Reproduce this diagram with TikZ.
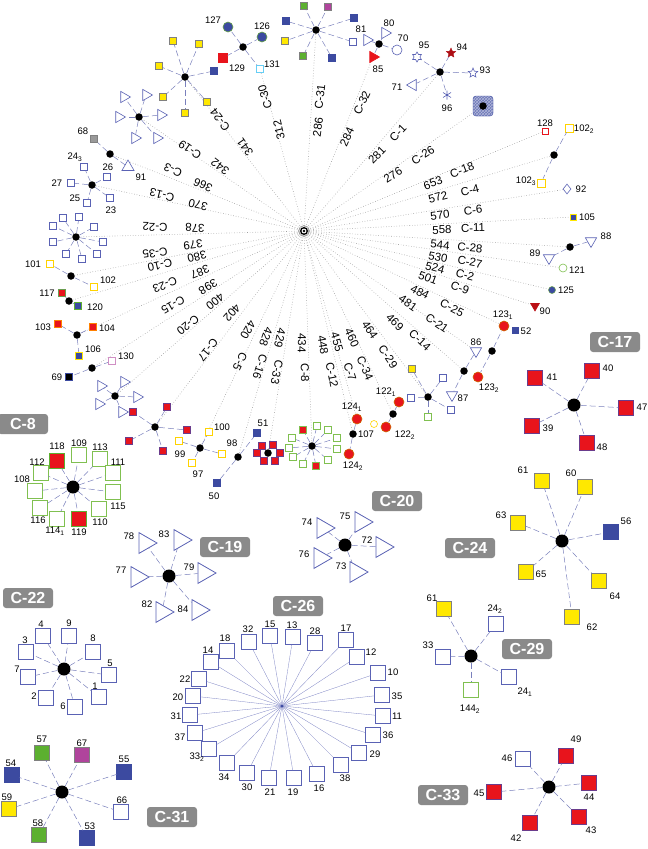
\documentclass[tikz,border=0pt]{standalone}
\usepackage{fontspec}
\setmainfont{Liberation Sans}
\usetikzlibrary{shapes.geometric,patterns,backgrounds}
\definecolor{nblue}{HTML}{3C4AA0}
\definecolor{oblue}{HTML}{5A62B4}
\definecolor{nyel}{HTML}{FFE800}
\definecolor{nred}{HTML}{E8141C}
\definecolor{ngreen}{HTML}{5CB030}
\definecolor{ogreen}{HTML}{80C050}
\definecolor{nmag}{HTML}{B0449C}
\definecolor{edgec}{HTML}{7A80BC}
\definecolor{rayc}{HTML}{A0A0A0}
\definecolor{boxc}{HTML}{8A8A8A}
\definecolor{rborder}{HTML}{6A3C8C}
\newcommand\lf[7]{\node[#2] (#1) at (#3,#4) {}; \node[lab] (#1l) at (#5,#6) {#7};}
\newcommand\rl[4]{\pgfmathsetmacro\rang{atan2(231-(#3),(#2)-304)}\node[rlab,rotate=\rang] (#1) at (#2,#3) {#4};}
\newcommand\sub[2]{#1\textsubscript{#2}}
\begin{document}
\begin{tikzpicture}[x=1pt,y=-1pt,
  hub/.style={circle,fill=black,inner sep=0pt,minimum size=7.5pt},
  bighub/.style={circle,fill=black,inner sep=0pt,minimum size=13pt},
  sq/.style={rectangle,inner sep=0pt,minimum size=7.5pt,line width=0.6pt},
  ysq/.style={sq,fill=nyel,draw=gray},
  bsq/.style={sq,fill=nblue,draw=nblue},
  osq/.style={sq,draw=oblue,fill=white},
  oysq/.style={sq,draw=nyel!80!orange,fill=white},
  ogsq/.style={sq,draw=ogreen,fill=white},
  rsq/.style={sq,fill=nred,draw=rborder},
  gsq/.style={sq,fill=ngreen,draw=gray},
  msq/.style={sq,fill=nmag,draw=gray},
  L/.style={minimum size=14.5pt},
  tri/.style={regular polygon,regular polygon sides=3,draw=oblue,fill=white,inner sep=0pt,minimum size=13pt,shape border rotate=-90,line width=0.6pt},
  btri/.style={tri,minimum size=24pt,line width=0.8pt},
  tridown/.style={tri,shape border rotate=180},
  cedge/.style={draw=edgec,dash pattern=on 6pt off 3pt,line width=0.5pt},
  ray/.style={draw=rayc,dotted,line width=0.6pt},
  lab/.style={font=\fontsize{9.5}{10}\selectfont,inner sep=0pt},
  rlab/.style={font=\fontsize{11.5}{12}\selectfont,inner sep=0pt},
  cbox/.style={fill=boxc,text=white,font=\bfseries\fontsize{16}{16}\selectfont,rounded corners=3pt,minimum width=50pt,minimum height=20pt,inner sep=1pt}]
\useasboundingbox (0,0) rectangle (648,849);

% ---------- centre ----------
\node[circle,fill=black,inner sep=0pt,minimum size=8pt] (ctr) at (304,231) {};
\fill[white] (ctr) circle (2.4pt);
\fill[black] (ctr) circle (1.3pt);
\draw[gray,line width=0.5pt] (ctr) circle (5.5pt);

% ---------- radial clusters ----------
% C-24
\node[hub] (r24) at (185,77) {};
\foreach \i/\x/\y in {a/173/41,b/199/44,c/159/66,d/163/97,e/185/113,f/207/102}{\node[ysq] (r24\i) at (\x,\y) {}; \draw[cedge] (r24) -- (r24\i);}
\node[bsq] (r24g) at (214,71) {}; \draw[cedge] (r24) -- (r24g);
% C-30
\node[hub] (r30) at (243,47) {};
\lf{r30-127}{circle,fill=nblue,draw=ngreen!70!gray,minimum size=10pt,inner sep=0pt,line width=0.6pt}{228}{27}{213}{20}{127}
\lf{r30-126}{circle,fill=nblue,draw=ngreen!70!gray,minimum size=10pt,inner sep=0pt,line width=0.6pt}{262}{37}{262}{26}{126}
\lf{r30-129}{rsq,draw=nred,minimum size=8.5pt}{223}{58}{237}{68}{129}
\lf{r30-131}{sq,draw=cyan!60,fill=white}{260}{69}{272}{64}{131}
\foreach \n in {r30-127,r30-126,r30-129,r30-131}{\draw[cedge] (r30) -- (\n);}
% C-31
\node[hub] (r31) at (316,30) {};
\node[gsq] (r31a) at (304,6) {}; \node[msq] (r31b) at (328,7) {}; \node[bsq] (r31c) at (354,18) {};
\node[bsq] (r31d) at (286,21) {}; \node[ysq] (r31e) at (285,41) {}; \node[gsq] (r31f) at (303,56) {};
\node[bsq] (r31g) at (332,58) {}; \node[osq] (r31h) at (353,42) {};
\foreach \n in {a,b,c,d,e,f,g,h}{\draw[cedge] (r31) -- (r31\n);}
% C-32
\node[hub] (r32) at (379,44) {};
\lf{r32-81}{tri}{367}{40}{361}{29}{81}
\lf{r32-80}{tri}{385}{33}{389}{23}{80}
\lf{r32-70}{circle,draw=oblue,fill=white,minimum size=10pt,inner sep=0pt,line width=0.6pt}{397}{50}{403}{38}{70}
\lf{r32-85}{tri,fill=nred,draw=nred}{373}{57}{378}{69}{85}
\foreach \n in {r32-81,r32-80,r32-70,r32-85}{\draw[cedge] (r32) -- (\n);}
% C-1
\node[hub] (r1) at (440,72) {};
\lf{r1-95}{star,star points=6,star point ratio=1.7,draw=oblue,fill=white,minimum size=10pt,inner sep=0pt,line width=0.6pt}{417}{57}{424}{45}{95}
\lf{r1-94}{star,star points=5,star point ratio=2.2,fill=nred!75!black,draw=nred!75!black,minimum size=10pt,inner sep=0pt}{451}{53}{462}{47}{94}
\lf{r1-93}{star,star points=5,star point ratio=2.2,draw=oblue,fill=white,minimum size=10pt,inner sep=0pt,line width=0.6pt}{473}{73}{485}{70}{93}
\lf{r1-96}{circle,minimum size=9pt,inner sep=0pt}{447}{95}{447}{108}{96}
\draw[oblue,line width=0.6pt] (447,90.5) -- (447,99.5) (443,92.5) -- (451,97.5) (443,97.5) -- (451,92.5);
\lf{r1-71}{tri,shape border rotate=90}{413}{85}{397}{87}{71}
\foreach \n in {r1-95,r1-94,r1-93,r1-96,r1-71}{\draw[cedge] (r1) -- (\n);}
% C-26 (collapsed)
\node[rectangle,rounded corners=3pt,minimum size=20pt,inner sep=0pt,draw=nblue,preaction={fill=nblue!75},pattern=crosshatch,pattern color=nblue!40] (r26) at (483,106) {};
\node[hub] (r26h) at (483,106) {};
% right side
\lf{r18}{sq,draw=nred,fill=white,minimum size=6pt}{545}{131}{545}{123}{128}
\node[hub] (r4) at (554,155) {};
\lf{r4-a}{oysq,minimum size=8pt}{569}{128}{584}{129}{\sub{102}{2}}
\lf{r4-b}{oysq,minimum size=8pt}{541}{183}{526}{181}{\sub{102}{3}}
\draw[cedge] (r4) -- (r4-a); \draw[cedge] (r4) -- (r4-b);
\lf{r6}{diamond,draw=oblue,fill=white,minimum width=8pt,minimum height=10pt,inner sep=0pt,line width=0.6pt}{567}{189}{581}{189}{92}
\lf{r11}{sq,fill=nblue,draw=nyel,minimum size=6pt}{573}{217}{587}{217}{105}
\node[hub] (r28) at (570,247) {};
\lf{r28-88}{tridown}{591}{241}{606}{236}{88}
\lf{r28-89}{tridown}{549}{258}{535}{253}{89}
\draw[cedge] (r28) -- (r28-88); \draw[cedge] (r28) -- (r28-89);
\lf{r27}{circle,draw=ogreen,fill=white,minimum size=8pt,inner sep=0pt,line width=0.6pt}{563}{268}{577}{270}{121}
\lf{r2}{circle,fill=nblue,draw=ngreen!70!gray,minimum size=7pt,inner sep=0pt,line width=0.5pt}{552}{290}{566}{290}{125}
\lf{r9}{tridown,fill=nred!80!black,draw=nred!80!black,minimum size=10pt}{535}{306}{545}{311}{90}
% cluster A (123)
\node[hub] (rA) at (492,351) {};
\lf{rA-1231}{circle,fill=nred,draw=orange!80!black,minimum size=10pt,inner sep=0pt,line width=0.6pt}{504}{326}{503}{315}{\sub{123}{1}}
\lf{rA-52}{bsq,minimum size=6pt}{515}{330}{526}{331}{52}
\lf{rA-1232}{circle,fill=nred,draw=orange!80!black,minimum size=10pt,inner sep=0pt,line width=0.6pt}{478}{377}{489}{388}{\sub{123}{2}}
\draw[cedge] (rA) -- (rA-1231); \draw[cedge] (rA) -- (rA-1232);
% cluster B (86,87)
\node[hub] (rB) at (464,371) {};
\lf{rB-86}{tridown}{476}{351}{476}{342}{86}
\lf{rB-87}{tridown}{452}{395}{463}{398}{87}
\draw[cedge] (rB) -- (rB-86); \draw[cedge] (rB) -- (rB-87);
% cluster C-29 (collapsed)
\node[hub] (r29) at (428,397) {};
\node[ysq] (r29a) at (412,369) {}; \node[osq] (r29b) at (443,378) {}; \node[osq] (r29c) at (411,398) {};
\node[osq] (r29d) at (451,410) {}; \node[ogsq] (r29e) at (428,417) {};
\foreach \n in {a,b,c,d,e}{\draw[cedge] (r29) -- (r29\n);}
% 122
\node[hub] (r34) at (393,414) {};
\lf{r34-1}{circle,fill=nred,draw=orange!80!black,minimum size=10pt,inner sep=0pt,line width=0.6pt}{399}{402}{386}{392}{\sub{122}{1}}
\lf{r34-2}{circle,fill=nred,draw=orange!80!black,minimum size=10pt,inner sep=0pt,line width=0.6pt}{386}{427}{405}{435}{\sub{122}{2}}
\draw[cedge] (r34) -- (r34-1); \draw[cedge] (r34) -- (r34-2);
% 124 / 107
\node[hub] (r12) at (353,434) {};
\lf{r7-1241}{circle,fill=nred,draw=orange!80!black,minimum size=10pt,inner sep=0pt,line width=0.6pt}{357}{419}{352}{407}{\sub{124}{1}}
\lf{r12-107}{circle,draw=nyel!80!orange,fill=white,minimum size=7pt,inner sep=0pt,line width=0.6pt}{374}{424}{366}{434}{107}
\lf{r12-1242}{circle,fill=nred,draw=orange!80!black,minimum size=10pt,inner sep=0pt,line width=0.6pt}{349}{454}{353}{466}{\sub{124}{2}}
\draw[cedge] (r12) -- (r7-1241); \draw[cedge] (r12) -- (r12-1242);
% C-8 collapsed (green)
\node[hub] (r8) at (312,446) {};
\foreach \i/\x/\y in {a/292/438,b/289/448,c/293/457,d/303/464,f/328/460,g/337/449,h/337/438,i/328/430,j/317/426}{\node[ogsq] (r8\i) at (\x,\y) {}; \draw[cedge] (r8) -- (r8\i);}
\foreach \i/\x/\y in {e/316/466,k/303/430}{\node[rsq,draw=ogreen] (r8\i) at (\x,\y) {}; \draw[cedge] (r8) -- (r8\i);}
% C-33 collapsed (red cross)
\foreach \i/\x/\y in {a/262/446,b/273/445,c/280/453,d/275/461,e/264/461,f/257/453}{\node[rsq] (r33\i) at (\x,\y) {};}
\node[hub] (r33) at (268,453) {};
% C-16 (98)
\node[hub] (r16) at (238,457) {};
\node[lab] (r16l) at (232,443) {98};
\lf{r16-50}{bsq}{217}{483}{214}{496}{50}
\lf{r16-51}{bsq}{257}{433}{263}{423}{51}
\draw[cedge] (r16) -- (r16-50); \draw[cedge] (r16) -- (r16-51);
% C-5
\node[hub] (r5) at (200,448) {};
\lf{r5-100}{oysq}{209}{432}{222}{427}{100}
\lf{r5-99}{oysq}{179}{441}{180}{454}{99}
\lf{r5-97}{oysq}{192}{463}{198}{474}{97}
\node[oysq] (r5-x) at (222,454) {};
\foreach \n in {r5-100,r5-99,r5-97,r5-x}{\draw[cedge] (r5) -- (\n);}
% C-17 collapsed
\node[hub] (r17) at (155,427) {};
\foreach \i/\x/\y in {a/133/412,b/167/407,c/187/430,d/129/441,e/163/451}{\node[rsq] (r17\i) at (\x,\y) {}; \draw[cedge] (r17) -- (r17\i);}
% C-20 collapsed
\node[hub] (r20) at (115,396) {};
\foreach \i/\x/\y in {a/101/386,b/124/382,c/137/397,d/99/404,e/122/412}{\node[tri] (r20\i) at (\x,\y) {}; \draw[cedge] (r20) -- (r20\i);}
% C-15
\node[hub] (r15) at (92,368) {};
\lf{r15-130}{sq,draw=nmag!60,fill=white}{112}{361}{126}{356}{130}
\lf{r15-69}{sq,fill=black,draw=nblue}{69}{377}{57}{377}{69}
\draw[cedge] (r15) -- (r15-130); \draw[cedge] (r15) -- (r15-69);
% C-23
\node[hub] (r23) at (77,335) {};
\lf{r23-103}{sq,fill=nred,draw=orange}{58}{324}{43}{327}{103}
\lf{r23-104}{sq,fill=nred,draw=orange}{93}{327}{107}{328}{104}
\lf{r23-106}{sq,fill=nblue,draw=nyel}{79}{356}{93}{349}{106}
\foreach \n in {r23-103,r23-104,r23-106}{\draw[cedge] (r23) -- (\n);}
% C-10
\node[hub] (r10) at (69,301) {};
\lf{r10-117}{sq,fill=nred,draw=ngreen!60!gray}{62}{293}{47}{293}{117}
\lf{r10-120}{sq,fill=nblue,draw=ngreen}{78}{306}{95}{307}{120}
\draw[cedge] (r10) -- (r10-117); \draw[cedge] (r10) -- (r10-120);
% C-35
\node[hub] (r35) at (71,276) {};
\lf{r35-101}{oysq}{50}{264}{33}{264}{101}
\lf{r35-102}{oysq}{94}{287}{108}{280}{102}
\draw[cedge] (r35) -- (r35-101); \draw[cedge] (r35) -- (r35-102);
% C-22 collapsed
\node[hub] (r22) at (76,237) {};
\foreach \i/\x/\y in {a/53/226,b/63/218,c/79/217,d/94/227,e/103/242,f/97/254,g/82/259,h/66/254,i/53/242}{\node[osq] (r22\i) at (\x,\y) {}; \draw[cedge] (r22) -- (r22\i);}
% C-13
\node[hub] (r13) at (92,185) {};
\lf{r13-243}{osq}{84}{167}{75}{157}{\sub{24}{3}}
\lf{r13-26}{osq}{107}{177}{108}{167}{26}
\lf{r13-27}{osq}{71}{183}{57}{183}{27}
\lf{r13-25}{osq}{87}{203}{75}{198}{25}
\lf{r13-23}{osq}{110}{198}{111}{210}{23}
\foreach \n in {r13-243,r13-26,r13-27,r13-25,r13-23}{\draw[cedge] (r13) -- (\n);}
% C-3
\node[hub] (r3) at (110,154) {};
\lf{r3-68}{sq,fill=gray!80,draw=gray}{94}{139}{83}{131}{68}
\lf{r3-91}{regular polygon,regular polygon sides=3,draw=oblue,fill=white,inner sep=0pt,minimum size=14pt,line width=0.6pt}{128}{167}{141}{177}{91}
\draw[cedge] (r3) -- (r3-68); \draw[cedge] (r3) -- (r3-91);
% C-19 collapsed
\node[hub] (r19) at (139,117) {};
\foreach \i/\x/\y in {a/124/97,b/146/95,c/119/117,d/161/115,e/135/138,f/157/138}{\node[tri] (r19\i) at (\x,\y) {}; \draw[cedge] (r19) -- (r19\i);}

% ---------- rays ----------
\begin{pgfonlayer}{background}
\foreach \n in {r24,r30-131,r31,r32-85,r1,r26,r18,r4,r6,r11,r28,r27,r2,r9,rA-1231,rB-86,rB,r29,r34,r7-1241,r12,r8,r33,r16,r5,r17,r20,r15,r23,r10,r35,r22,r13,r3,r19}{\draw[ray] (ctr) -- (\n);}
\end{pgfonlayer}

% ---------- ray labels ----------
\rl{n341}{245}{147}{341}\rl{c24}{220}{120}{C-24}
\rl{n312}{279}{130}{312}\rl{c30}{265}{97}{C-30}
\rl{n286}{318}{127}{286}\rl{c31}{320}{97}{C-31}
\rl{n284}{347}{137}{284}\rl{c32}{362}{103}{C-32}
\rl{n281}{377}{155}{281}\rl{c1}{398}{133}{C-1}
\rl{n276}{393}{175}{276}\rl{c26}{423}{155}{C-26}
\rl{n653}{433}{183}{653}\rl{c18}{462}{170}{C-18}
\rl{n572}{438}{197}{572}\rl{c4}{470}{190}{C-4}
\rl{n570}{440}{215}{570}\rl{c6}{473}{210}{C-6}
\rl{n558}{442}{230}{558}\rl{c11}{473}{228}{C-11}
\rl{n544}{440}{245}{544}\rl{c28}{470}{248}{C-28}
\rl{n530}{438}{257}{530}\rl{c27}{470}{262}{C-27}
\rl{n524}{435}{268}{524}\rl{c2}{465}{275}{C-2}
\rl{n501}{428}{278}{501}\rl{c9}{460}{288}{C-9}
\rl{n484}{420}{292}{484}\rl{c25}{452}{308}{C-25}
\rl{n481}{408}{303}{481}\rl{c21}{437}{323}{C-21}
\rl{n469}{395}{322}{469}\rl{c14}{420}{340}{C-14}
\rl{n464}{370}{330}{464}\rl{c29}{388}{357}{C-29}
\rl{n460}{352}{338}{460}\rl{c34}{365}{368}{C-34}
\rl{n455}{337}{342}{455}\rl{c7}{350}{372}{C-7}
\rl{n448}{323}{345}{448}\rl{c12}{332}{375}{C-12}
\rl{n434}{302}{343}{434}\rl{c8}{305}{373}{C-8}
\rl{n429}{280}{338}{429}\rl{c33}{277}{372}{C-33}
\rl{n428}{266}{337}{428}\rl{c16}{260}{367}{C-16}
\rl{n420}{248}{330}{420}\rl{c5}{240}{362}{C-5}
\rl{n402}{232}{313}{402}\rl{c17}{208}{350}{C-17}
\rl{n400}{215}{302}{400}\rl{c20}{188}{325}{C-20}
\rl{n398}{208}{287}{398}\rl{c15}{173}{305}{C-15}
\rl{n387}{200}{272}{387}\rl{c23}{165}{285}{C-23}
\rl{n380}{197}{257}{380}\rl{c10}{160}{265}{C-10}
\rl{n379}{193}{245}{379}\rl{c35}{155}{253}{C-35}
\rl{n378}{195}{228}{378}\rl{c22}{155}{227}{C-22}
\rl{n370}{198}{205}{370}\rl{c13}{162}{195}{C-13}
\rl{n366}{203}{185}{366}\rl{c3}{173}{170}{C-3}
\rl{n342}{220}{167}{342}\rl{c19}{190}{150}{C-19}

% ---------- expanded: C-8 ----------
\node[cbox] (b8) at (23,424) {C-8};
\node[bighub] (e8) at (73,487) {};
\lf{e8-118}{rsq,L,draw=ngreen}{57}{461}{57}{446}{118}
\lf{e8-109}{ogsq,L}{79}{455}{79}{443}{109}
\lf{e8-113}{ogsq,L}{100}{459}{100}{447}{113}
\lf{e8-111}{ogsq,L}{113}{473}{118}{462}{111}
\lf{e8-115}{ogsq,L}{113}{492}{118}{506}{115}
\lf{e8-110}{ogsq,L}{99}{509}{100}{522}{110}
\lf{e8-119}{rsq,L,draw=ngreen}{79}{519}{79}{532}{119}
\lf{e8-1141}{ogsq,L}{57}{519}{55}{531}{\sub{114}{1}}
\lf{e8-116}{ogsq,L}{40}{508}{38}{520}{116}
\lf{e8-108}{ogsq,L}{35}{491}{22}{479}{108}
\lf{e8-112}{ogsq,L}{41}{473}{37}{462}{112}
\foreach \n in {118,109,113,111,115,110,119,1141,116,108,112}{\draw[cedge] (e8) -- (e8-\n);}

% ---------- expanded: C-19 ----------
\node[cbox] (b19) at (225,547) {C-19};
\node[bighub] (e19) at (169,576) {};
\lf{e19-78}{btri}{145}{543}{129}{536}{78}
\lf{e19-83}{btri}{180}{540}{164}{534}{83}
\lf{e19-79}{btri}{204}{573}{189}{567}{79}
\lf{e19-84}{btri}{198}{610}{183}{609}{84}
\lf{e19-82}{btri}{162}{612}{147}{604}{82}
\lf{e19-77}{btri}{137}{577}{121}{570}{77}
\foreach \n in {78,83,79,84,82,77}{\draw[cedge] (e19) -- (e19-\n);}

% ---------- expanded: C-20 ----------
\node[cbox] (b20) at (397,501) {C-20};
\node[bighub] (e20) at (345,545) {};
\lf{e20-74}{btri}{323}{528}{307}{522}{74}
\lf{e20-75}{btri}{361}{522}{345}{516}{75}
\lf{e20-72}{btri}{382}{547}{367}{540}{72}
\lf{e20-73}{btri}{356}{572}{341}{566}{73}
\lf{e20-76}{btri}{320}{558}{304}{554}{76}
\foreach \n in {74,75,72,73,76}{\draw[cedge] (e20) -- (e20-\n);}

% ---------- expanded: C-22 ----------
\node[cbox] (b22) at (28,598) {C-22};
\node[bighub] (e22) at (64,669) {};
\lf{e22-4}{osq,L}{43}{636}{41}{624}{4}
\lf{e22-9}{osq,L}{69}{636}{69}{623}{9}
\lf{e22-8}{osq,L}{93}{652}{93}{638}{8}
\lf{e22-5}{osq,L}{109}{675}{110}{663}{5}
\lf{e22-1}{osq,L}{99}{697}{95}{686}{1}
\lf{e22-6}{osq,L}{75}{707}{63}{706}{6}
\lf{e22-2}{osq,L}{46}{698}{34}{696}{2}
\lf{e22-7}{osq,L}{28}{677}{17}{669}{7}
\lf{e22-3}{osq,L}{26}{652}{25}{640}{3}
\foreach \n in {4,9,8,5,1,6,2,7,3}{\draw[cedge] (e22) -- (e22-\n);}

% ---------- expanded: C-31 ----------
\node[cbox] (b31) at (172,817) {C-31};
\node[bighub] (e31) at (62,792) {};
\lf{e31-57}{gsq,L}{42}{753}{42}{739}{57}
\lf{e31-67}{msq,L}{82}{755}{82}{743}{67}
\lf{e31-55}{bsq,L}{124}{772}{124}{759}{55}
\lf{e31-66}{osq,L}{121}{812}{122}{800}{66}
\lf{e31-53}{bsq,L}{87}{838}{90}{826}{53}
\lf{e31-58}{gsq,L}{39}{835}{38}{823}{58}
\lf{e31-59}{ysq,L}{9}{809}{7}{797}{59}
\lf{e31-54}{bsq,L}{12}{775}{11}{763}{54}
\foreach \n in {57,67,55,66,53,58,59,54}{\draw[cedge] (e31) -- (e31-\n);}

% ---------- expanded: C-26 ----------
\node[cbox] (b26) at (298,606) {C-26};
\coordinate (e26) at (282,706);
\lf{e26-32}{osq,L}{249}{642}{248}{629}{32}
\lf{e26-15}{osq,L}{270}{636}{270}{624}{15}
\lf{e26-13}{osq,L}{293}{637}{292}{625}{13}
\lf{e26-28}{osq,L}{315}{643}{315}{631}{28}
\lf{e26-17}{osq,L}{346}{640}{346}{628}{17}
\lf{e26-12}{osq,L}{357}{657}{371}{652}{12}
\lf{e26-10}{osq,L}{378}{673}{393}{672}{10}
\lf{e26-35}{osq,L}{382}{695}{397}{696}{35}
\lf{e26-11}{osq,L}{383}{716}{397}{716}{11}
\lf{e26-36}{osq,L}{373}{735}{388}{735}{36}
\lf{e26-29}{osq,L}{359}{753}{375}{754}{29}
\lf{e26-38}{osq,L}{341}{765}{345}{778}{38}
\lf{e26-16}{osq,L}{317}{774}{319}{788}{16}
\lf{e26-19}{osq,L}{294}{778}{293}{792}{19}
\lf{e26-21}{osq,L}{269}{778}{270}{792}{21}
\lf{e26-30}{osq,L}{247}{773}{247}{787}{30}
\lf{e26-34}{osq,L}{227}{763}{224}{777}{34}
\lf{e26-332}{osq,L}{209}{749}{197}{757}{\sub{33}{2}}
\lf{e26-37}{osq,L}{195}{733}{180}{737}{37}
\lf{e26-31}{osq,L}{190}{715}{176}{716}{31}
\lf{e26-20}{osq,L}{193}{696}{178}{697}{20}
\lf{e26-22}{osq,L}{199}{679}{185}{679}{22}
\lf{e26-14}{osq,L}{211}{662}{208}{650}{14}
\lf{e26-18}{osq,L}{227}{651}{225}{638}{18}
\foreach \n in {32,15,13,28,17,12,10,35,11,36,29,38,16,19,21,30,34,332,37,31,20,22,14,18}{\draw[oblue!80,line width=0.3pt] (e26) -- (e26-\n);}
\fill[nblue] (e26) circle (1.5pt);

% ---------- expanded: C-17 ----------
\node[cbox] (b17) at (615,342) {C-17};
\node[bighub] (e17) at (574,405) {};
\lf{e17-41}{rsq,L}{535}{378}{552}{377}{41}
\lf{e17-40}{rsq,L}{592}{371}{608}{368}{40}
\lf{e17-47}{rsq,L}{626}{408}{642}{407}{47}
\lf{e17-48}{rsq,L}{587}{443}{602}{447}{48}
\lf{e17-39}{rsq,L}{532}{426}{548}{428}{39}
\foreach \n in {41,40,47,48,39}{\draw[cedge] (e17) -- (e17-\n);}

% ---------- expanded: C-24 ----------
\node[cbox] (b24) at (470,548) {C-24};
\node[bighub] (e24) at (562,541) {};
\lf{e24-61}{ysq,L}{542}{481}{523}{470}{61}
\lf{e24-60}{ysq,L}{585}{487}{571}{473}{60}
\lf{e24-56}{bsq,L}{611}{532}{626}{521}{56}
\lf{e24-64}{ysq,L}{599}{581}{615}{596}{64}
\lf{e24-62}{ysq,L}{572}{617}{592}{627}{62}
\lf{e24-65}{ysq,L}{526}{572}{541}{574}{65}
\lf{e24-63}{ysq,L}{518}{523}{501}{515}{63}
\foreach \n in {61,60,56,64,62,65,63}{\draw[cedge] (e24) -- (e24-\n);}

% ---------- expanded: C-29 ----------
\node[cbox] (b29) at (527,649) {C-29};
\node[bighub] (e29) at (471,656) {};
\lf{e29-61}{ysq,L}{444}{609}{432}{598}{61}
\lf{e29-242}{osq,L}{496}{624}{495}{609}{\sub{24}{2}}
\lf{e29-241}{osq,L}{509}{677}{525}{692}{\sub{24}{1}}
\lf{e29-1442}{ogsq,L}{471}{690}{470}{709}{\sub{144}{2}}
\lf{e29-33}{osq,L}{443}{657}{428}{645}{33}
\foreach \n in {61,242,241,1442,33}{\draw[cedge] (e29) -- (e29-\n);}

% ---------- expanded: C-33 ----------
\node[cbox] (b33) at (443,795) {C-33};
\node[bighub] (e33) at (549,787) {};
\lf{e33-49}{rsq,L}{566}{756}{576}{739}{49}
\lf{e33-44}{rsq,L}{589}{783}{589}{797}{44}
\lf{e33-43}{rsq,L}{579}{817}{591}{830}{43}
\lf{e33-42}{rsq,L}{530}{823}{516}{838}{42}
\lf{e33-45}{rsq,L}{494}{792}{479}{793}{45}
\lf{e33-46}{osq,L}{523}{759}{507}{758}{46}
\foreach \n in {49,44,43,42,45,46}{\draw[cedge] (e33) -- (e33-\n);}
\end{tikzpicture}
\end{document}
